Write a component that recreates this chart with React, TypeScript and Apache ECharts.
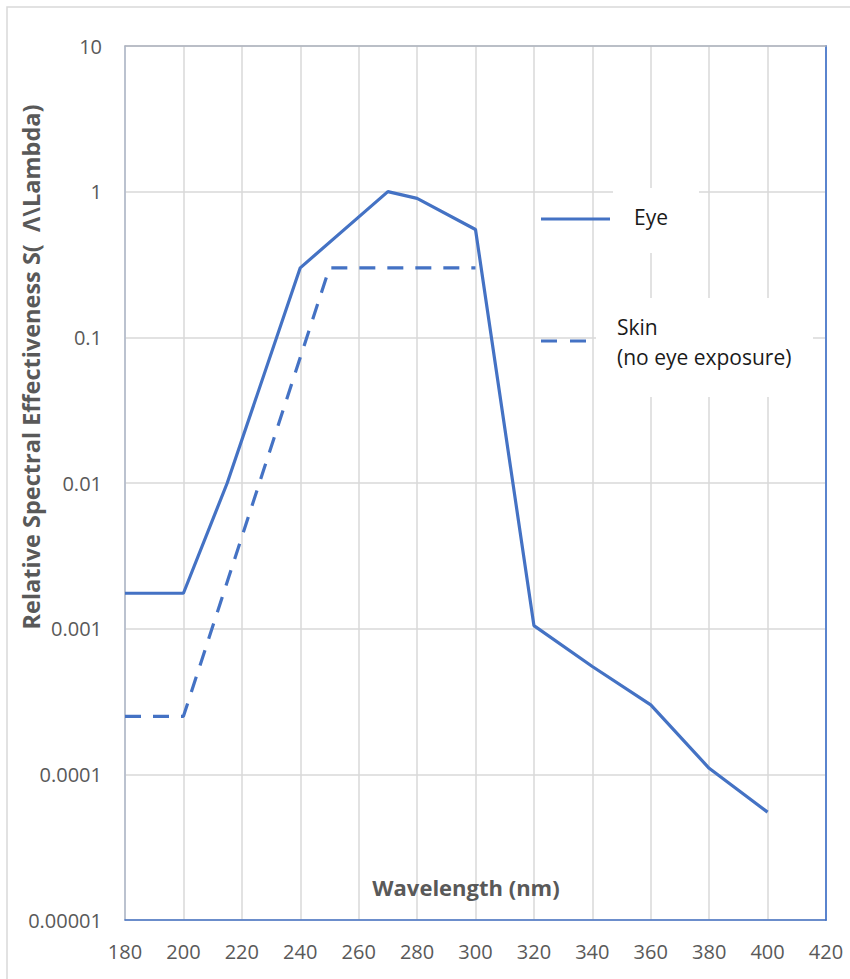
import React, { useEffect, useRef } from "react";
import * as echarts from "echarts";

const eyeWavelengths = [180, 200, 215, 240, 270, 280, 300, 320, 340, 360, 380, 400];
const eyeValues = [0.00175, 0.00175, 0.01, 0.3, 1, 0.9, 0.55, 0.00105, 0.00055, 0.0003, 0.00011, 0.000055];
const skinWavelengths = [180, 200, 250, 300];
const skinValues = [0.00025, 0.00025, 0.3, 0.3];
const xTickValues = [180, 200, 220, 240, 260, 280, 300, 320, 340, 360, 380, 400, 420];
const yTickLabels = ["0.00001", "0.0001", "0.001", "0.01", "0.1", "1", "10"];
const seriesNames = ["Eye", "Skin"];
const skinLabelLines = ["Skin", "(no eye exposure)"];
const xTitle = "Wavelength (nm)";
const yTitle = "Relative Spectral Effectiveness S(  Λ\\Lambda)";

const FONT = "'Open Sans', 'Noto Sans', sans-serif";
const BLUE = "#4472C4";

export default function App() {
  const ref = useRef<HTMLDivElement>(null);
  useEffect(() => {
    document.body.style.margin = "0";
    if (!ref.current) return;
    const chart = echarts.init(ref.current, undefined, { renderer: "svg" });
    const yMin = Math.pow(10, -(yTickLabels.length - 2));
    const yMax = Math.pow(10, 1);
    const yFmt = (v: number) => {
      const i = Math.round(Math.log10(v)) + (yTickLabels.length - 2);
      return yTickLabels[i] ?? "";
    };
    chart.setOption({
      animation: false,
      backgroundColor: "#ffffff",
      grid: { left: 125, right: 24, top: 46, bottom: 59, containLabel: false },
      xAxis: [
        {
          type: "value",
          min: xTickValues[0],
          max: xTickValues[xTickValues.length - 1],
          interval: 20,
          axisLine: { show: true, lineStyle: { color: BLUE, width: 1.5 } },
          axisTick: { show: false },
          axisLabel: { color: "#595959", fontSize: 20, fontFamily: FONT, margin: 21 },
          splitLine: { show: true, lineStyle: { color: "#D9D9D9", width: 1.5 } },
        },
        {
          type: "value",
          position: "top",
          min: xTickValues[0],
          max: xTickValues[xTickValues.length - 1],
          interval: 20,
          axisLine: { show: true, onZero: false, lineStyle: { color: "#ADB3BE", width: 1.5 } },
          axisTick: { show: false },
          axisLabel: { show: false },
          splitLine: { show: false },
        },
      ],
      yAxis: [
        {
          type: "log",
          logBase: 10,
          min: yMin,
          max: yMax,
          splitNumber: 6,
          axisLine: { show: true, onZero: false, lineStyle: { color: "#AEB7C9", width: 1.5 } },
          axisTick: { show: false },
          axisLabel: { color: "#595959", fontSize: 20, fontFamily: FONT, margin: 23, formatter: yFmt },
          splitLine: { show: true, lineStyle: { color: "#D9D9D9", width: 1.5 } },
        },
        {
          type: "log",
          logBase: 10,
          position: "right",
          min: yMin,
          max: yMax,
          splitNumber: 6,
          axisLine: { show: true, onZero: false, lineStyle: { color: "#5A84CE", width: 2 } },
          axisTick: { show: false },
          axisLabel: { show: false },
          splitLine: { show: false },
        },
      ],
      series: [
        {
          name: seriesNames[0],
          type: "line",
          xAxisIndex: 0,
          yAxisIndex: 0,
          symbol: "none",
          data: eyeWavelengths.map((w, i) => [w, eyeValues[i]]),
          lineStyle: { color: BLUE, width: 3.2 },
          z: 5,
        },
        {
          name: seriesNames[1],
          type: "line",
          xAxisIndex: 0,
          yAxisIndex: 0,
          symbol: "none",
          data: skinWavelengths.map((w, i) => [w, skinValues[i]]),
          lineStyle: { color: BLUE, width: 3.2, type: [16, 12] },
          z: 5,
        },
      ],
      graphic: [
        {
          type: "rect",
          shape: { x: 7, y: 7, width: 900, height: 1000 },
          style: { fill: "none", stroke: "#D9D9D9", lineWidth: 1.5 },
          silent: true,
          z: 0,
        },
        {
          type: "rect",
          shape: { x: 613, y: 188, width: 86, height: 65 },
          style: { fill: "#ffffff" },
          z: 10,
        },
        {
          type: "rect",
          shape: { x: 596, y: 298, width: 217, height: 99 },
          style: { fill: "#ffffff" },
          z: 10,
        },
        {
          type: "line",
          shape: { x1: 541, y1: 219, x2: 610, y2: 219 },
          style: { stroke: BLUE, lineWidth: 3.2 },
          z: 11,
        },
        {
          type: "line",
          shape: { x1: 541, y1: 341, x2: 586, y2: 341 },
          style: { stroke: BLUE, lineWidth: 3.2, lineDash: [16, 13] },
          z: 11,
        },
        {
          type: "text",
          x: 634,
          y: 217,
          style: { text: seriesNames[0], fill: "#1a1a1a", font: `21px ${FONT}`, textAlign: "left", textVerticalAlign: "middle" },
          z: 12,
        },
        {
          type: "text",
          x: 617,
          y: 327,
          style: { text: skinLabelLines[0], fill: "#1a1a1a", font: `21px ${FONT}`, textAlign: "left", textVerticalAlign: "middle" },
          z: 12,
        },
        {
          type: "text",
          x: 617,
          y: 357,
          style: { text: skinLabelLines[1], fill: "#1a1a1a", font: `21px ${FONT}`, textAlign: "left", textVerticalAlign: "middle" },
          z: 12,
        },
        {
          type: "text",
          x: 466,
          y: 887,
          style: { text: xTitle, fill: "#595959", font: `bold 22px ${FONT}`, textAlign: "center", textVerticalAlign: "middle" },
          z: 12,
        },
        {
          type: "text",
          x: 31,
          y: 367,
          rotation: Math.PI / 2,
          style: { text: yTitle, fill: "#595959", font: `bold 23.5px ${FONT}`, textAlign: "center", textVerticalAlign: "middle" },
          z: 12,
        },
      ],
    });
    return () => chart.dispose();
  }, []);
  return <div ref={ref} style={{ width: 850, height: 979 }} />;
}
